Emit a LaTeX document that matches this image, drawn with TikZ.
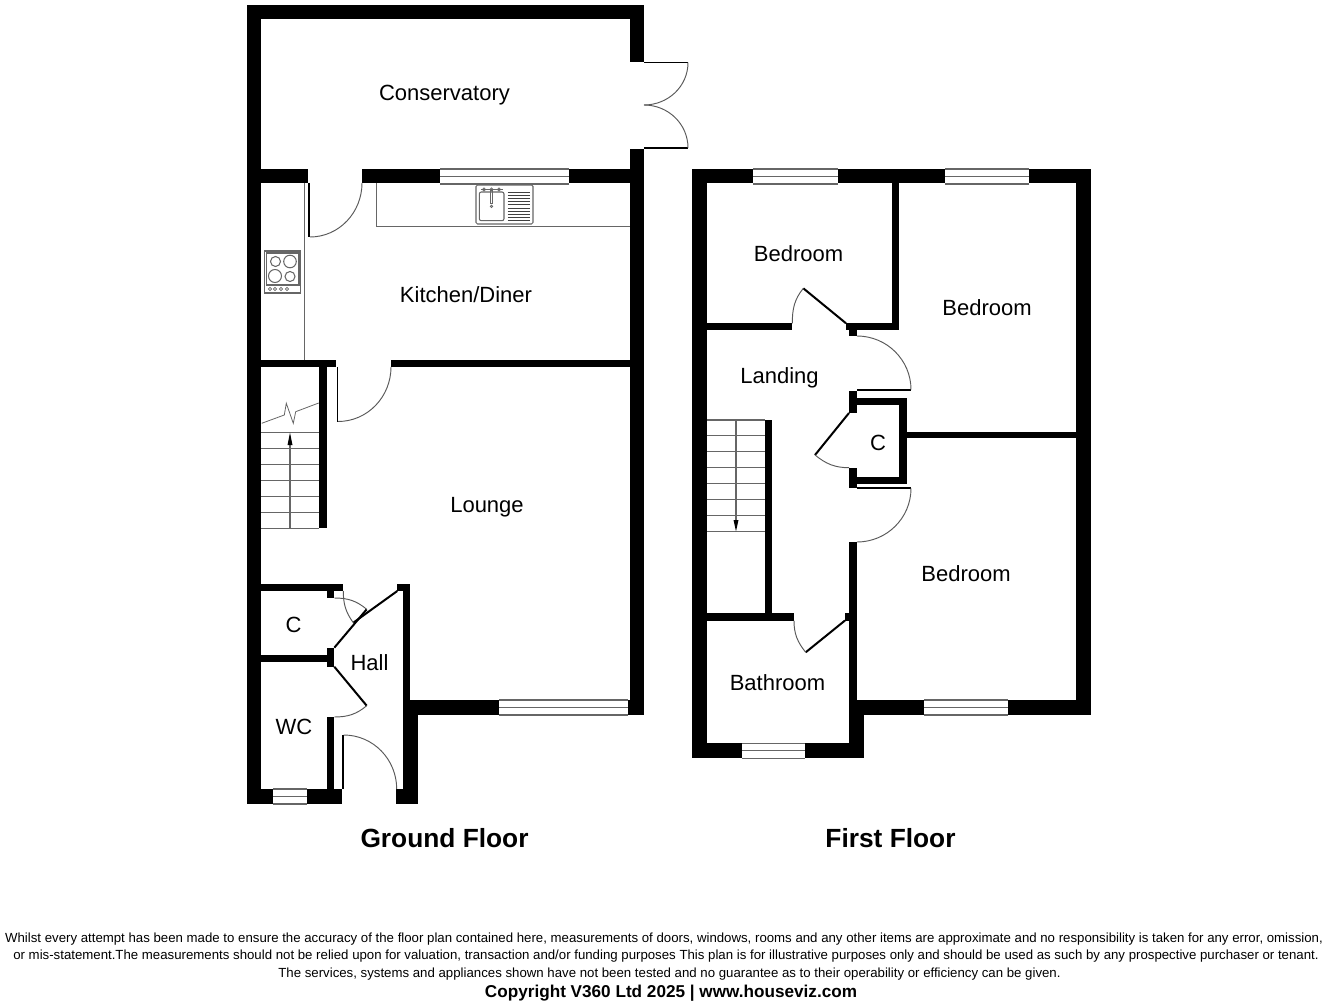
\documentclass[tikz,border=0pt]{standalone}
\usepackage{fontspec}
\setmainfont{Liberation Sans}
\usetikzlibrary{arrows.meta}
\tikzset{
	wall/.style={fill=black},
	thinline/.style={draw=black!60, line width=1.05pt},
	swing/.style={draw=black!65, line width=0.95pt},
	leaf/.style={draw=black, line width=2pt},
	jamb/.style={draw=black, line width=1.8pt},
	room/.style={font=\fontsize{22}{26}\selectfont, inner sep=0pt},
	floortitle/.style={font=\fontsize{26.3}{30}\selectfont\bfseries, inner sep=0pt},
	smallprint/.style={font=\fontsize{13.23}{15}\selectfont, inner sep=0pt}
}

\begin{document}
\begin{tikzpicture}[x=1pt,y=-1pt]
	\useasboundingbox (0,0) rectangle (1328,1008);

	% Ground floor walls
	\fill[wall] (247,5) rectangle (261,804);
	\fill[wall] (247,5) rectangle (644,19);
	\fill[wall] (630,5) rectangle (644,62);
	\fill[wall] (630,149) rectangle (644,715);
	\fill[wall] (247,169) rectangle (308,183);
	\fill[wall] (362,169) rectangle (440,183);
	\fill[wall] (569,169) rectangle (644,183);
	\fill[wall] (261,360) rectangle (336,367);
	\fill[wall] (391,360) rectangle (630,367);
	\fill[wall] (319,367) rectangle (326.5,528);
	\fill[wall] (261,584) rectangle (343,591);
	\fill[wall] (327,591) rectangle (334.3,598);
	\fill[wall] (261,655) rectangle (334.3,662);
	\fill[wall] (327,648) rectangle (334.3,667);
	\fill[wall] (327,717) rectangle (334.3,789);
	\fill[wall] (397.3,584) rectangle (410.3,591);
	\fill[wall] (403.3,591) rectangle (410.3,700);
	\fill[wall] (403.3,700) rectangle (418,804);
	\fill[wall] (396.3,789) rectangle (418,804);
	\fill[wall] (410,700) rectangle (499,715);
	\fill[wall] (628,700) rectangle (644,715);
	\fill[wall] (247,789) rectangle (273.3,804);
	\fill[wall] (307.3,789) rectangle (342.3,804);

	% First floor walls
	\fill[wall] (692.3,169) rectangle (707.3,758);
	\fill[wall] (692.3,169) rectangle (753,183);
	\fill[wall] (838,169) rectangle (945,183);
	\fill[wall] (1029,169) rectangle (1091,183);
	\fill[wall] (1076,169) rectangle (1091,715);
	\fill[wall] (891.7,183) rectangle (899.3,330);
	\fill[wall] (707,323.3) rectangle (792.3,330.5);
	\fill[wall] (846,323.3) rectangle (899.3,330.5);
	\fill[wall] (849.3,330) rectangle (856.7,336);
	\fill[wall] (849.3,390.7) rectangle (857,413.3);
	\fill[wall] (857,397.7) rectangle (906.7,405);
	\fill[wall] (899.3,397.7) rectangle (906.7,484);
	\fill[wall] (857,477.3) rectangle (906.7,484);
	\fill[wall] (849.3,467.7) rectangle (857,487.7);
	\fill[wall] (906.7,431.7) rectangle (1076,438.3);
	\fill[wall] (849.3,542) rectangle (856.7,700);
	\fill[wall] (845,613.3) rectangle (856.7,620.7);
	\fill[wall] (765,420) rectangle (772.3,613);
	\fill[wall] (707,613.3) rectangle (794,620.7);
	\fill[wall] (849.3,700) rectangle (864.3,758.3);
	\fill[wall] (849.3,700) rectangle (924,715);
	\fill[wall] (1008,700) rectangle (1091,715);
	\fill[wall] (692.3,743.3) rectangle (742.3,758.3);
	\fill[wall] (805,743.3) rectangle (864.3,758.3);

	% Windows
	\foreach \xa/\xb/\ya in {440/569/169, 499/628/700, 273.3/307.3/789, 753/838/169, 945/1029/169, 924/1008/700, 742.3/805/743.3} {
		\draw[thinline] (\xa,\ya) -- (\xb,\ya);
		\draw[thinline] (\xa,\ya+7.5) -- (\xb,\ya+7.5);
		\draw[thinline] (\xa,\ya+15) -- (\xb,\ya+15);
	}

	% French doors
	\draw[jamb] (644,62.5) -- (688,62.5);
	\draw[jamb] (644,148) -- (688,148);
	\draw[swing] (688,62.5) to[out=270,in=0] (644,105);
	\draw[swing] (688,148) to[out=90,in=0] (644,105);

	% Ground floor doors
	\draw[jamb] (309.3,183) -- (309.3,237);
	\draw[swing] (310,237) to[out=0,in=270] (362,183);
	\draw[jamb] (337.5,367) -- (337.5,421.5);
	\draw[swing] (338,421.5) to[out=0,in=270] (391,367);
	\draw[jamb] (343,735) -- (343,789);
	\draw[swing] (343.7,735) to[out=0,in=90] (396.7,789);
	\draw[leaf] (334.3,666.7) -- (366.7,705.7);
	\draw[swing] (366.7,705.7) to[out=220,in=0] (334.3,717);
	\draw[leaf] (334.3,647.7) -- (366.7,609.3);
	\draw[swing] (334.3,598) to[out=0,in=140] (366.7,609.3);
	\draw[leaf] (397.3,591) -- (353.3,622.7);
	\draw[swing] (343.3,591) to[out=270,in=126] (353.3,622.7);

	% First floor doors
	\draw[leaf] (846,323.3) -- (803.3,288.3);
	\draw[swing] (803.3,288.3) to[out=231,in=90] (792.3,323.3);
	\draw[jamb] (857,389.7) -- (911,389.7);
	\draw[swing] (857,336) to[out=0,in=90] (911,389.7);
	\draw[jamb] (857,488.3) -- (911,488.3);
	\draw[swing] (911,488.3) to[out=270,in=0] (857,542);
	\draw[leaf] (849,413) -- (815,455);
	\draw[swing] (815,455) to[out=321,in=180] (849,467.7);
	\draw[leaf] (845,620.5) -- (805.7,652.3);
	\draw[swing] (794,620.7) to[out=270,in=129] (805.7,652.3);

	% Ground floor stairs
	\foreach \ya in {432.7,448.7,464.7,480.3,496.3,512.3,528.3} {
		\draw[thinline] (261,\ya) -- (319,\ya);
	}
	\draw[thinline] (290,528) -- (290,441);
	\fill (290,432.7) -- (292.5,445) -- (287.5,445) -- cycle;
	\draw[thinline, line width=0.8pt] (261.7,423.3) -- (284.3,415) -- (286.3,403.3) -- (293.3,423.3) -- (295.7,411.7) -- (318.7,403);

	% First floor stairs
	\foreach \ya in {420,435.7,451.7,467.7,483.7,499.7,515.7,531.3} {
		\draw[thinline] (707,\ya) -- (765,\ya);
	}
	\draw[thinline] (736,420) -- (736,522);
	\fill (736,531.3) -- (733.5,520) -- (738.5,520) -- cycle;

	% Worktops
	\draw[thinline] (304.3,183) -- (304.3,360);
	\draw[thinline] (376.8,183) -- (376.8,226.5) -- (630,226.5);

	% Sink
	\draw[thinline, rounded corners=1.5pt] (476,185) rectangle (533,224);
	\draw[thinline, rounded corners=2pt] (479.3,192) rectangle (504,220.7);
	\foreach \xa in {484,491.5,499} {
		\draw[thinline, line width=0.8pt] (\xa,189.5) circle[radius=1.6];
	}
	\draw[thinline, line width=0.8pt] (480.5,189.5) -- (502.5,189.5);
	\draw[thinline, line width=0.8pt] (490.7,190) rectangle (492.3,203);
	\draw[thinline, line width=0.8pt] (491.5,206.3) circle[radius=1.2];
	\foreach \ya in {192,195.2,...,221} {
		\draw[black!75, line width=0.9pt] (507.5,\ya) -- (529.5,\ya);
	}

	% Hob
	\draw[thinline] (264.5,251) rectangle (300.7,293);
	\draw[thinline] (266.5,253) rectangle (299,285);
	\draw[thinline] (275.5,261.5) circle[radius=5];
	\draw[thinline] (290,261.5) circle[radius=6.3];
	\draw[thinline] (275,276) circle[radius=6.5];
	\draw[thinline] (290,276.5) circle[radius=5];
	\foreach \xa in {270,275,281,287} {
		\draw[thinline, line width=0.8pt] (\xa,289) circle[radius=1.6];
	}

	% Room labels
	\node[room] (conservatory) at (444.5,95.5) {Conservatory};
	\node[room] (kitchen) at (466,294.5) {Kitchen/Diner};
	\node[room] (lounge) at (487,507) {Lounge};
	\node[room] (cupboardg) at (293.5,625) {C};
	\node[room] (hall) at (369.5,663) {Hall};
	\node[room] (wc) at (294,726.5) {WC};
	\node[room] (bedrooma) at (798.5,254) {Bedroom};
	\node[room] (bedroomb) at (987,308) {Bedroom};
	\node[room] (landing) at (779.5,378) {Landing};
	\node[room] (cupboardf) at (878,443) {C};
	\node[room] (bedroomc) at (966,574) {Bedroom};
	\node[room] (bathroom) at (777.5,683) {Bathroom};

	% Titles
	\node[floortitle] (ground) at (444.5,838.5) {Ground Floor};
	\node[floortitle] (first) at (890.5,838.5) {First Floor};

	% Small print
	\node[smallprint] (linea) at (664,939) {Whilst every attempt has been made to ensure the accuracy of the floor plan contained here, measurements of doors, windows, rooms and any other items are approximate and no responsibility is taken for any error, omission,};
	\node[smallprint] (lineb) at (666,956.5) {or mis-statement.The measurements should not be relied upon for valuation, transaction and/or funding purposes This plan is for illustrative purposes only and should be used as such by any prospective purchaser or tenant.};
	\node[smallprint] (linec) at (669.5,974) {The services, systems and appliances shown have not been tested and no guarantee as to their operability or efficiency can be given.};
	\node[smallprint, font=\fontsize{17.15}{20}\selectfont\bfseries] (lined) at (671,993) {Copyright V360 Ltd 2025 | www.houseviz.com};
\end{tikzpicture}
\end{document}
